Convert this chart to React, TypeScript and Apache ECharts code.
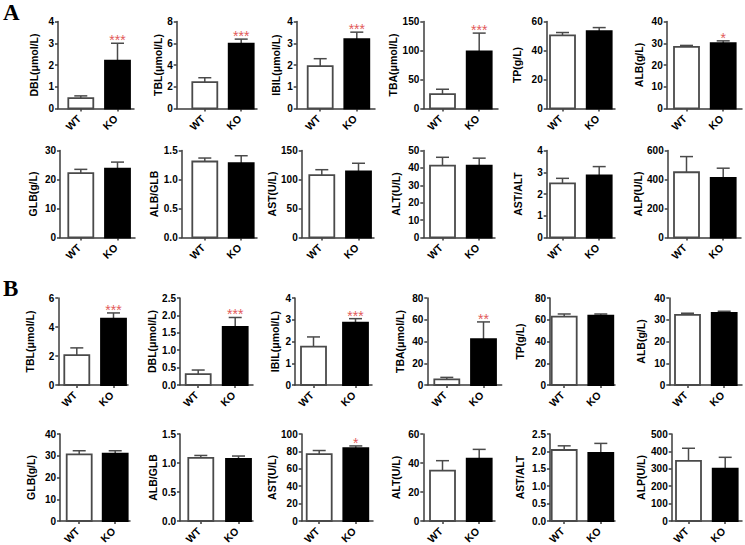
import React, { useEffect, useRef } from 'react';
import * as echarts from 'echarts';

const groups = ['WT', 'KO'];

// ---- Panel A, row 1 ----
const row1Names = ['DBL(μmol/L)', 'TBL(μmol/L)', 'IBIL(μmol/L)', 'TBA(μmol/L)', 'TP(g/L)', 'ALB(g/L)'];
const row1WT = [0.48, 2.43, 1.95, 24.8, 50.5, 28.3];
const row1WTErr = [0.1, 0.4, 0.34, 8.4, 1.9, 0.7];
const row1KO = [2.2, 5.97, 3.19, 98.5, 53.3, 30.0];
const row1KOErr = [0.8, 0.41, 0.32, 31.5, 2.5, 1.1];
const row1Stars = ['***', '***', '***', '***', '', '*'];
const row1Max = [4, 8, 4, 150, 60, 40];
const row1Step = [1, 2, 1, 50, 20, 10];

// ---- Panel A, row 2 ----
const row2Names = ['GLB(g/L)', 'ALB/GLB', 'AST(U/L)', 'ALT(U/L)', 'AST/ALT', 'ALP(U/L)'];
const row2WT = [22.2, 1.31, 107.5, 41.3, 2.49, 450];
const row2WTErr = [1.3, 0.06, 9.4, 4.8, 0.23, 108];
const row2KO = [23.7, 1.28, 114, 41.3, 2.85, 411];
const row2KOErr = [2.3, 0.13, 14, 4.3, 0.41, 67];
const row2Stars = ['', '', '', '', '', ''];
const row2Max = [30, 1.5, 150, 50, 4, 600];
const row2Step = [10, 0.5, 50, 10, 1, 200];

// ---- Panel B, row 3 ----
const row3Names = ['TBL(μmol/L)', 'DBL(μmol/L)', 'IBIL(μmol/L)', 'TBA(μmol/L)', 'TP(g/L)', 'ALB(g/L)'];
const row3WT = [2.06, 0.315, 1.76, 5.2, 62.9, 32.2];
const row3WTErr = [0.5, 0.115, 0.45, 1.8, 2.4, 0.8];
const row3KO = [4.58, 1.67, 2.87, 42.1, 63.8, 33.1];
const row3KOErr = [0.39, 0.27, 0.18, 15.9, 1.5, 0.8];
const row3Stars = ['***', '***', '***', '**', '', ''];
const row3Max = [6, 2.5, 4, 80, 80, 40];
const row3Step = [2, 0.5, 1, 20, 20, 10];

// ---- Panel B, row 4 ----
const row4Names = ['GLB(g/L)', 'ALB/GLB', 'AST(U/L)', 'ALT(U/L)', 'AST/ALT', 'ALP(U/L)'];
const row4WT = [30.6, 1.09, 76.8, 34.7, 2.04, 345];
const row4WTErr = [1.7, 0.04, 4.2, 6.9, 0.12, 73];
const row4KO = [31.0, 1.07, 83.7, 43.0, 1.96, 301];
const row4KOErr = [1.3, 0.05, 2.6, 6.4, 0.27, 65];
const row4Stars = ['', '', '*', '', '', ''];
const row4Max = [40, 1.5, 100, 60, 2.5, 500];
const row4Step = [10, 0.5, 20, 20, 0.5, 100];

// ---- layout (pixels) ----
const rowTop = [21.5, 150.5, 298, 434];
const rowBottom = [108.5, 237.5, 385, 521];
const axisXs = [
  [58, 176.7, 296.7, 423.3, 546.7, 666.7],
  [60, 181.7, 301.7, 423.3, 546.7, 667.7],
  [58.3, 180, 295, 427.3, 550, 669.3],
  [60, 180, 301.7, 423.3, 550, 671.7],
];
const wtLefts = [
  [68.3, 192.3, 307.7, 430, 550, 674],
  [68.3, 192.3, 309.3, 430, 550, 674],
  [64.3, 185.7, 301, 434.3, 551.7, 675],
  [66.7, 188.3, 306.7, 430, 551.7, 676],
];
const koLefts = [
  [105, 228.7, 344.3, 466.7, 586.7, 710.7],
  [105, 228.7, 346, 466.7, 586.7, 710.7],
  [101, 222.7, 343, 471, 588.3, 711.7],
  [102.7, 226, 343.3, 466.7, 588.3, 712.7],
];
const axisEnds = [
  [134, 257, 375, 498, 615, 742],
  [135, 257, 374, 495, 615, 741],
  [128, 253, 372, 501.7, 615, 742],
  [130, 253, 373, 495, 615, 742],
];
const nameGaps = [
  [18.7, 13.4, 15.7, 21.6, 24, 22.4],
  [21.7, 19, 20, 21.6, 23.4, 22.7],
  [23.3, 22.7, 14.3, 22.3, 25, 22.6],
  [23.3, 20, 24.4, 21.6, 25, 25],
];

const rows = [
  { names: row1Names, wt: row1WT, wtErr: row1WTErr, ko: row1KO, koErr: row1KOErr, stars: row1Stars, max: row1Max, step: row1Step },
  { names: row2Names, wt: row2WT, wtErr: row2WTErr, ko: row2KO, koErr: row2KOErr, stars: row2Stars, max: row2Max, step: row2Step },
  { names: row3Names, wt: row3WT, wtErr: row3WTErr, ko: row3KO, koErr: row3KOErr, stars: row3Stars, max: row3Max, step: row3Step },
  { names: row4Names, wt: row4WT, wtErr: row4WTErr, ko: row4KO, koErr: row4KOErr, stars: row4Stars, max: row4Max, step: row4Step },
];

const FONT = '"Liberation Sans", Arial, Helvetica, sans-serif';
const AXIS_COLOR = '#3c3c3c';
const BAR_W = 25;

const makeRender = (stars: string[]) => (params: any, api: any) => {
  const x = api.value(0);
  const m = api.value(1);
  const e = api.value(2);
  const base = api.coord([x, 0]);
  const top = api.coord([x, m]);
  const errTop = api.coord([x, m + e]);
  const cx = top[0];
  const hw = BAR_W / 2;
  const isKO = params.dataIndex === 1;
  const children: any[] = [
    {
      type: 'line',
      shape: { x1: cx, y1: top[1], x2: cx, y2: errTop[1] },
      style: { stroke: '#4a4a4a', lineWidth: 1.5 },
    },
    {
      type: 'line',
      shape: { x1: cx - 6.5, y1: errTop[1], x2: cx + 6.5, y2: errTop[1] },
      style: { stroke: '#4a4a4a', lineWidth: 1.5 },
    },
    {
      type: 'rect',
      shape: { x: cx - hw, y: top[1], width: BAR_W, height: base[1] - top[1] },
      style: { fill: isKO ? '#000' : '#fff', stroke: isKO ? '#000' : '#4a4a4a', lineWidth: 1.8 },
    },
    {
      type: 'text',
      x: cx - 1.5,
      y: base[1] + 8.5,
      rotation: Math.PI / 4,
      style: {
        text: groups[params.dataIndex],
        fill: '#000',
        font: `bold 10.5px ${FONT}`,
        align: 'right',
        verticalAlign: 'middle',
      },
    },
  ];
  const star = stars[params.dataIndex];
  if (star) {
    children.push({
      type: 'text',
      x: cx,
      y: errTop[1] - 3,
      style: { text: star, fill: '#e25a5a', font: `14px ${FONT}`, align: 'center', verticalAlign: 'middle' },
    });
  }
  return { type: 'group', children };
};

function buildOption() {
  const grid: any[] = [];
  const xAxis: any[] = [];
  const yAxis: any[] = [];
  const series: any[] = [];
  rows.forEach((row, r) => {
    for (let c = 0; c < 6; c++) {
      const idx = r * 6 + c;
      const ax = axisXs[r][c];
      const wtC = wtLefts[r][c] + BAR_W / 2;
      const koC = koLefts[r][c] + BAR_W / 2;
      const end = axisEnds[r][c];
      const s = koC - wtC;
      grid.push({ left: ax, top: rowTop[r], width: end - ax, height: rowBottom[r] - rowTop[r] });
      xAxis.push({
        gridIndex: idx,
        type: 'value',
        min: -(wtC - ax) / s,
        max: 1 + (end - koC) / s,
        axisLine: { show: true, onZero: false, lineStyle: { color: AXIS_COLOR, width: 1.5 } },
        axisTick: { show: true, customValues: [0, 1], length: 3, lineStyle: { color: AXIS_COLOR, width: 1.5 } },
        axisLabel: { show: false },
        splitLine: { show: false },
      });
      const step = row.step[c];
      yAxis.push({
        gridIndex: idx,
        type: 'value',
        min: 0,
        max: row.max[c],
        interval: step,
        name: row.names[c],
        nameLocation: 'middle',
        nameRotate: 90,
        nameGap: nameGaps[r][c],
        nameTextStyle: { fontWeight: 'bold', fontSize: 10.5, color: '#000', fontFamily: FONT },
        axisLine: { show: true, onZero: false, lineStyle: { color: AXIS_COLOR, width: 1.5 } },
        axisTick: { show: true, length: 3, lineStyle: { color: AXIS_COLOR, width: 1.5 } },
        axisLabel: {
          margin: 4,
          fontWeight: 'bold',
          fontSize: 10,
          color: '#000',
          fontFamily: FONT,
          formatter: (v: number) => (step < 1 ? v.toFixed(1) : String(v)),
        },
        splitLine: { show: false },
      });
      series.push({
        type: 'custom',
        xAxisIndex: idx,
        yAxisIndex: idx,
        clip: false,
        renderItem: makeRender(['', row.stars[c]]),
        data: [
          [0, row.wt[c], row.wtErr[c]],
          [1, row.ko[c], row.koErr[c]],
        ],
      });
    }
  });
  return {
    animation: false,
    backgroundColor: '#fff',
    grid,
    xAxis,
    yAxis,
    series,
    graphic: [
      { type: 'text', left: 3, top: 1, style: { text: 'A', font: 'bold 23px "Liberation Serif", "Times New Roman", serif', fill: '#000' } },
      { type: 'text', left: 3, top: 277, style: { text: 'B', font: 'bold 23px "Liberation Serif", "Times New Roman", serif', fill: '#000' } },
    ],
  };
}

export default function App() {
  const ref = useRef<HTMLDivElement>(null);
  useEffect(() => {
    const chart = echarts.init(ref.current!, null, { renderer: 'svg' });
    chart.setOption(buildOption() as any);
    return () => chart.dispose();
  }, []);
  return (
    <div
      ref={ref}
      style={{ position: 'absolute', left: 0, top: 0, width: 745, height: 545, background: '#fff' }}
    />
  );
}
